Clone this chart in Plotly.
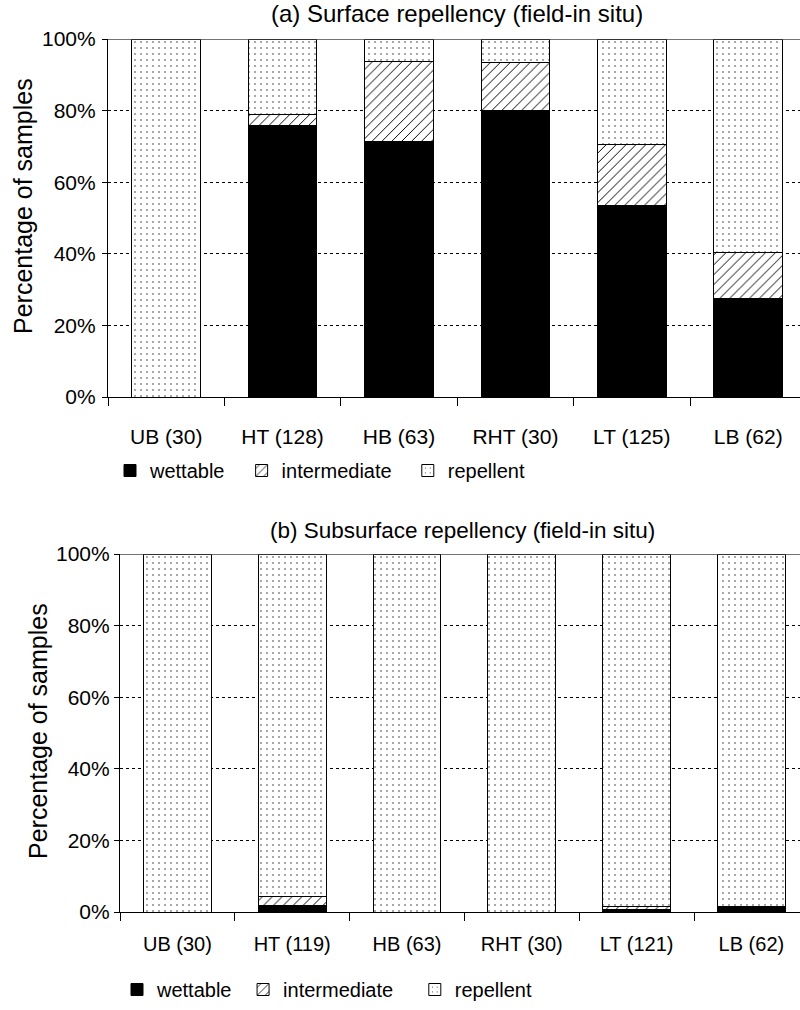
import plotly.graph_objects as go

categories_a = ["UB (30)", "HT (128)", "HB (63)", "RHT (30)", "LT (125)", "LB (62)"]
wettable_a = [0, 75.8, 71.4, 80.0, 53.6, 27.4]
intermediate_a = [0, 3.1, 22.2, 13.3, 16.8, 12.9]
repellent_a = [100, 21.1, 6.4, 6.7, 29.6, 59.7]

categories_b = ["UB (30)", "HT (119)", "HB (63)", "RHT (30)", "LT (121)", "LB (62)"]
wettable_b = [0, 1.7, 0, 0, 0.8, 1.6]
intermediate_b = [0, 2.5, 0, 0, 0.8, 0]
repellent_b = [100, 95.8, 100, 100, 98.4, 98.4]

y_ticks = [0, 20, 40, 60, 80, 100]
y_ticktext = ["0%", "20%", "40%", "60%", "80%", "100%"]
series_names = ["wettable", "intermediate", "repellent"]

FONT = "Liberation Sans, Arial, sans-serif"
OFF = 0  # body margin removed via post_script
W, H = 800, 1010

styles = {
    "wettable": dict(color="black", pattern=dict(shape="")),
    "intermediate": dict(color="white", pattern=dict(shape="/", fgcolor="black", bgcolor="white", size=7, solidity=0.14)),
    "repellent": dict(color="white", pattern=dict(shape=".", fgcolor="black", bgcolor="white", size=6, solidity=0.035)),
}

fig = go.Figure()

def add_panel(cats, vals, xa, ya, legend, pads):
    for name, v, pad in zip(series_names, vals, pads):
        st = styles[name]
        fig.add_trace(go.Bar(
            x=cats, y=v, name=name + "\u00a0" * pad, xaxis=xa, yaxis=ya, legend=legend,
            marker=dict(color=st["color"], pattern=st["pattern"],
                        line=dict(color="black", width=1)),
            hoverinfo="skip",
        ))

add_panel(categories_a, [wettable_a, intermediate_a, repellent_a], "x", "y", "legend", [2, 2, 0])
add_panel(categories_b, [wettable_b, intermediate_b, repellent_b], "x2", "y2", "legend2", [1, 3, 0])

# page pixel -> paper fraction
def px_x(p):
    return (p - OFF) / W

def px_y(p):
    return 1 - (p - OFF) / H

def xaxis_cfg(left, ncat_visible, anchor, size, standoff):
    return dict(
        domain=[px_x(left), 1.0], anchor=anchor, type="category",
        range=[-0.5, -0.5 + ncat_visible], automargin=False,
        showline=True, linecolor="black", linewidth=1.2, mirror=False,
        ticks="outside", ticklen=8, tickcolor="black", tickwidth=1.2,
        tickson="boundaries", showgrid=False, zeroline=False,
        ticklabelstandoff=standoff,
        tickfont=dict(family=FONT, size=size, color="black"), fixedrange=True,
    )

def yaxis_cfg(top, bottom, anchor, standoff):
    return dict(
        domain=[px_y(bottom), px_y(top)], anchor=anchor, range=[0, 100],
        tickmode="array", tickvals=y_ticks, ticktext=y_ticktext, automargin=False,
        showline=True, linecolor="black", linewidth=1.2,
        ticks="outside", ticklen=5, tickcolor="black", tickwidth=1,
        showgrid=True, gridcolor="black", griddash="dot", gridwidth=1,
        zeroline=False, ticklabelstandoff=standoff,
        tickfont=dict(family=FONT, size=21, color="black"),
        fixedrange=True,
    )

fig.update_layout(
    template="none",
    width=W, height=H, margin=dict(l=0, r=0, t=0, b=0, autoexpand=False),
    paper_bgcolor="white", plot_bgcolor="white",
    barmode="stack", bargap=0.41,
    font=dict(family=FONT, size=20, color="black"),
    xaxis=xaxis_cfg(108, 692 / 116.4, "y", 21, 21),
    yaxis=yaxis_cfg(39, 397, "x", 2),
    xaxis2=xaxis_cfg(120, 680 / 114.8, "y2", 20, 14),
    yaxis2=yaxis_cfg(554, 912, "x2", 0),
    legend=dict(orientation="h", x=px_x(110), y=px_y(451), xanchor="left", yanchor="top",
                traceorder="normal", font=dict(family=FONT, size=20),
                bgcolor="rgba(0,0,0,0)"),
    legend2=dict(orientation="h", x=px_x(117), y=px_y(970), xanchor="left", yanchor="top",
                 traceorder="normal", font=dict(family=FONT, size=20),
                 bgcolor="rgba(0,0,0,0)"),
    showlegend=True,
)

# top border line at 100%
for ya, left in [("y", 108), ("y2", 120)]:
    fig.add_shape(type="line", xref="paper", yref=ya, x0=px_x(left), x1=1, y0=100, y1=100,
                  line=dict(color="#444", width=1.5))

def note(text, x, y, size, angle=0):
    fig.add_annotation(text=text, x=px_x(x), y=px_y(y), xref="paper", yref="paper",
                       xanchor="center", yanchor="middle", showarrow=False,
                       textangle=angle, font=dict(family=FONT, size=size))

note("(a) Surface repellency (field-in situ)", 457, 13, 24)
note("(b) Subsurface repellency (field-in situ)", 462, 530, 22.5)
note("Percentage of samples", 23, 206, 25, -90)
note("Percentage of samples", 38, 731, 25, -90)

fig.write_html("out.html", config={"displayModeBar": False},
               post_script="document.body.style.margin='0px';")
